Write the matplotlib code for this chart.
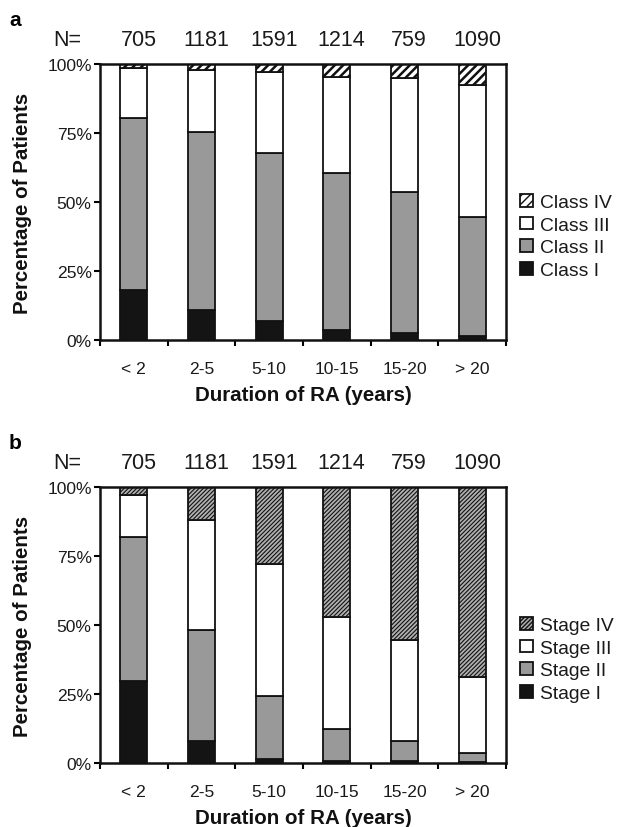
import matplotlib
matplotlib.use("Agg")
import matplotlib.pyplot as plt
import numpy as np

plt.rcParams['font.family'] = ['Liberation Sans', 'DejaVu Sans']

categories = ['< 2', '2-5', '5-10', '10-15', '15-20', '> 20']
n_values = [705, 1181, 1591, 1214, 759, 1090]

class_I = [18.0, 11.0, 7.0, 3.6, 2.5, 1.6]
class_II = [62.4, 64.5, 60.8, 56.8, 51.2, 43.0]
class_III = [18.2, 22.3, 29.2, 35.0, 41.2, 47.9]
class_IV = [1.4, 2.2, 3.0, 4.6, 5.1, 7.5]

stage_I = [29.7, 8.0, 1.6, 0.6, 0.6, 0.3]
stage_II = [52.2, 40.2, 22.8, 11.6, 7.3, 3.4]
stage_III = [15.3, 39.7, 47.6, 40.7, 36.5, 27.5]
stage_IV = [2.8, 12.1, 28.0, 47.1, 55.6, 68.8]

fig = plt.figure(figsize=(6.27, 8.28), dpi=100)
W, H = 627, 828


def px_axes(left, top, right, bottom):
    return fig.add_axes([left / W, (H - bottom) / H, (right - left) / W, (bottom - top) / H])


def panel(ax, series, names, letter, iv_style):
    x = np.arange(len(categories))
    bottom = np.zeros(len(categories))
    styles = [
        dict(facecolor='#141414', hatch=None),
        dict(facecolor='#999999', hatch=None),
        dict(facecolor='white', hatch=None),
        iv_style,
    ]
    handles = []
    for vals, st, name in zip(series, styles, names):
        vals = np.array(vals)
        with plt.rc_context({'hatch.linewidth': st.get('hlw', 1.0),
                             'hatch.color': st.get('hcolor', 'black')}):
            bars = ax.bar(x, vals, 0.4, bottom=bottom, facecolor=st['facecolor'],
                          edgecolor='#111111', linewidth=1.3, hatch=st['hatch'],
                          label=name, zorder=2)
            for b in bars:
                if hasattr(b, 'set_hatch_linewidth'):
                    b.set_hatch_linewidth(st.get('hlw', 1.0))
        handles.append(bars)
        bottom += vals
    ax.set_xlim(-0.5, len(categories) - 0.5)
    ax.set_ylim(0, 100)
    ax.set_yticks([0, 25, 50, 75, 100])
    ax.set_yticklabels(['0%', '25%', '50%', '75%', '100%'], fontsize=12.6, color='#1a1a1a')
    ax.set_xticks(x)
    ax.set_xticklabels(categories, fontsize=12.6, color='#1a1a1a')
    ax.set_xticks(np.arange(-0.5, len(categories) - 0.4, 1), minor=True)
    ax.tick_params(axis='x', which='major', length=0, pad=15)
    ax.tick_params(axis='x', which='minor', length=4, width=1.5, direction='out')
    ax.tick_params(axis='y', length=4, width=1.5, direction='out', pad=2)
    for s in ax.spines.values():
        s.set_linewidth(1.8)
        s.set_color('#111111')
    ax.set_ylabel('Percentage of Patients', fontsize=14.8, fontweight='bold', labelpad=11,
                  color='#111111')
    ax.text(0.5, -0.196, 'Duration of RA (years)', transform=ax.transAxes,
            ha='center', va='center', fontsize=14.8, fontweight='bold', color='#111111')
    trans = ax.get_xaxis_transform()
    ax.text(-0.081, 1.09, 'N=', transform=ax.transAxes, ha='center', va='center',
            fontsize=15.5, color='#1a1a1a')
    for xi, n in zip(x, n_values):
        ax.text(xi + 0.07, 1.09, str(n), transform=trans, ha='center', va='center',
                fontsize=15.5, color='#1a1a1a')
    ax.text(-0.21, 1.16, letter, transform=ax.transAxes, ha='center', va='center',
            fontsize=15, fontweight='bold')
    leg = ax.legend(handles[::-1], names[::-1], loc='center left',
                    bbox_to_anchor=(1.035, 0.375), frameon=False, fontsize=13.9,
                    handlelength=0.65, handleheight=0.65, handletextpad=0.4,
                    labelspacing=0.28, borderpad=0, borderaxespad=0)
    for t in leg.get_texts():
        t.set_color('#1a1a1a')
    return leg


ax1 = px_axes(100, 65, 506, 341)
panel(ax1, [class_I, class_II, class_III, class_IV],
      ['Class I', 'Class II', 'Class III', 'Class IV'], 'a',
      dict(facecolor='white', hatch='////', hlw=1.8, hcolor='#222222'))

ax2 = px_axes(100, 488, 506, 764)
panel(ax2, [stage_I, stage_II, stage_III, stage_IV],
      ['Stage I', 'Stage II', 'Stage III', 'Stage IV'], 'b',
      dict(facecolor='#b0b0b0', hatch='////////', hlw=0.8, hcolor='#3a3a3a'))

fig.savefig('out.png', dpi=100)
